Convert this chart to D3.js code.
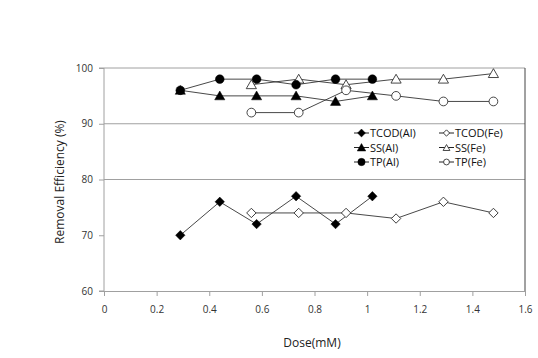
<!DOCTYPE html>
<html><head><meta charset="utf-8">
<script src="https://cdn.jsdelivr.net/npm/d3@7"></script>
<style>body{margin:0;background:#fff}svg{display:block}</style>
</head><body>
<svg id="c" width="538" height="358"></svg>
<script>
const doseAl = [0.29, 0.44, 0.58, 0.73, 0.88, 1.02];
const doseFe = [0.56, 0.74, 0.92, 1.11, 1.29, 1.48];
const tcodAl = [70, 76, 72, 77, 72, 77];
const tcodFe = [74, 74, 74, 73, 76, 74];
const ssAl = [96, 95, 95, 95, 94, 95];
const ssFe = [97, 98, 97, 98, 98, 99];
const tpAl = [96, 98, 98, 97, 98, 98];
const tpFe = [92, 92, 96, 95, 94, 94];
const xTicks = [0, 0.2, 0.4, 0.6, 0.8, 1, 1.2, 1.4, 1.6];
const yTicks = [60, 70, 80, 90, 100];
const gridVals = [80, 90, 100];
const seriesNames = ["TCOD(Al)", "TCOD(Fe)", "SS(Al)", "SS(Fe)", "TP(Al)", "TP(Fe)"];

const series = [
  {name: seriesNames[0], x: doseAl, y: tcodAl, shape: "diamond", filled: true},
  {name: seriesNames[1], x: doseFe, y: tcodFe, shape: "diamond", filled: false},
  {name: seriesNames[2], x: doseAl, y: ssAl, shape: "triangle", filled: true},
  {name: seriesNames[3], x: doseFe, y: ssFe, shape: "triangle", filled: false},
  {name: seriesNames[4], x: doseAl, y: tpAl, shape: "circle", filled: true},
  {name: seriesNames[5], x: doseFe, y: tpFe, shape: "circle", filled: false}
];

const svg = d3.select("#c");
const x = d3.scaleLinear().domain([0, 1.6]).range([104, 525]);
const y = d3.scaleLinear().domain([60, 100]).range([291, 68]);
const font = "'Open Sans', 'DejaVu Sans', sans-serif";

// gridlines
svg.append("g").selectAll("line").data(gridVals).join("line")
  .attr("x1", x(0)).attr("x2", x(1.6))
  .attr("y1", d => y(d)).attr("y2", d => y(d))
  .attr("stroke", "#a0a0a0").attr("stroke-width", 1);
// right border
svg.append("line").attr("x1", x(1.6)).attr("x2", x(1.6)).attr("y1", y(100)).attr("y2", y(60))
  .attr("stroke", "#444").attr("stroke-width", 1);

// axes
const xAxis = svg.append("g").attr("transform", `translate(0,${y(60)})`)
  .call(d3.axisBottom(x).tickValues(xTicks).tickSize(5).tickPadding(10).tickFormat(d => d3.format("~g")(d)));
const yAxis = svg.append("g").attr("transform", `translate(${x(0)},0)`)
  .call(d3.axisLeft(y).tickValues(yTicks).tickSize(5).tickPadding(6));
[xAxis, yAxis].forEach(a => {
  a.select(".domain").attr("stroke", "#a0a0a0");
  a.selectAll(".tick line").attr("stroke", "#a0a0a0");
  a.selectAll("text").attr("font-family", font).attr("font-size", 10).attr("fill", "#333");
});
yAxis.select(".domain").attr("d", `M-5,${y(100)}H0V${y(60)}H-5`);

// titles
svg.append("text").attr("x", 312).attr("y", 347).attr("text-anchor", "middle")
  .attr("font-family", font).attr("font-size", 12).attr("fill", "#222").text("Dose(mM)");
svg.append("text").attr("transform", "translate(64,182) rotate(-90)").attr("text-anchor", "middle")
  .attr("font-family", font).attr("font-size", 12).attr("fill", "#222").text("Removal Efficiency (%)");

const symType = {diamond: d3.symbolSquare, triangle: d3.symbolTriangle, circle: d3.symbolCircle};
const symSize = {diamond: 44, triangle: 45, circle: 60};

function drawMarker(g, s, px, py, scale) {
  const sz = symSize[s.shape] * (scale || 1);
  const rot = s.shape === "diamond" ? " rotate(45)" : "";
  g.append("path")
    .attr("d", d3.symbol().type(symType[s.shape]).size(sz)())
    .attr("transform", `translate(${px},${py + (s.shape === "triangle" ? 1 : 0)})${rot}`)
    .attr("fill", s.filled ? "#000" : "#fff")
    .attr("stroke", s.filled ? "#000" : "#333")
    .attr("stroke-width", s.filled ? 0.5 : 0.9);
}

const line = d3.line().x(d => x(d[0])).y(d => y(d[1]));
series.forEach(s => {
  const pts = s.x.map((v, i) => [v, s.y[i]]);
  svg.append("path").attr("d", line(pts)).attr("fill", "none")
    .attr("stroke", "#333").attr("stroke-width", 0.9);
});
series.forEach(s => {
  const g = svg.append("g");
  s.x.forEach((v, i) => drawMarker(g, s, x(v), y(s.y[i]), 1));
});

// legend
const leg = svg.append("g");
series.forEach((s, i) => {
  const col = i % 2, row = Math.floor(i / 2);
  const lx = col === 0 ? 354 : 439;
  const ly = 133 + row * 14.5;
  leg.append("line").attr("x1", lx).attr("x2", lx + 15).attr("y1", ly).attr("y2", ly)
    .attr("stroke", "#222").attr("stroke-width", 1);
  drawMarker(leg, s, lx + 7.5, ly, s.filled ? 0.7 : 0.45);
  leg.append("text").attr("x", lx + 16).attr("y", ly + 4)
    .attr("font-family", font).attr("font-size", 11).attr("fill", "#111").text(s.name);
});
</script>
</body></html>
